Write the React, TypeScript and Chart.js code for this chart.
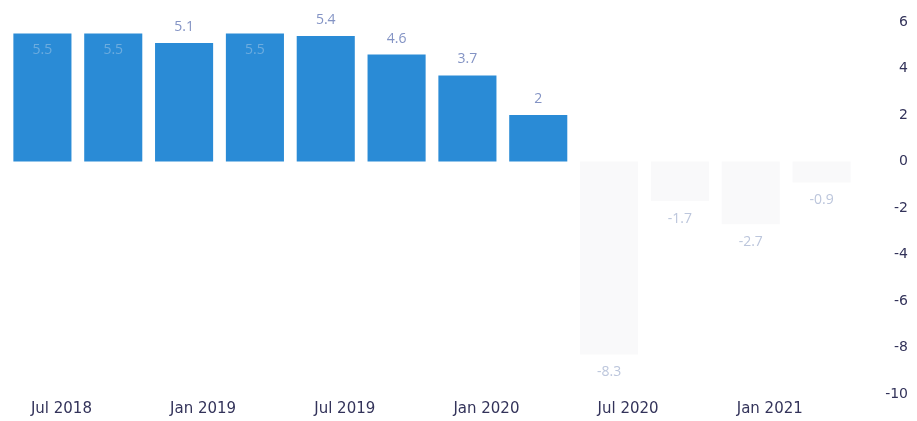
import React, { useEffect, useRef } from "react";
import { Chart, registerables } from "chart.js";

Chart.register(...registerables);

const categories = [
  "Jul 2018", "Oct 2018", "Jan 2019", "Apr 2019", "Jul 2019", "Oct 2019",
  "Jan 2020", "Apr 2020", "Jul 2020", "Oct 2020", "Jan 2021", "Apr 2021",
];
const values = [5.5, 5.5, 5.1, 5.5, 5.4, 4.6, 3.7, 2, -8.3, -1.7, -2.7, -0.9];
const yTicks = [-10, -8, -6, -4, -2, 0, 2, 4, 6];

const POS = "#2a8bd6";
const NEG = "#f9f9fa";

const labelPlugin = {
  id: "valueLabels",
  afterDatasetsDraw(chart: any) {
    const ctx = chart.ctx;
    const meta = chart.getDatasetMeta(0);
    ctx.save();
    ctx.font = "14px 'Open Sans'";
    ctx.textAlign = "center";
    ctx.textBaseline = "middle";
    meta.data.forEach((bar: any, i: number) => {
      const v = values[i];
      const txt = String(v);
      if (v >= 5.5) {
        ctx.fillStyle = "#6cacdf";
        ctx.fillText(txt, bar.x, bar.y + 16);
      } else if (v >= 0) {
        ctx.fillStyle = "#8393c4";
        ctx.fillText(txt, bar.x, bar.y - 16);
      } else {
        ctx.fillStyle = "#bcc6dc";
        ctx.fillText(txt, bar.x, bar.y + 18);
      }
    });
    ctx.restore();
  },
};

export default function App() {
  const ref = useRef<HTMLCanvasElement>(null);
  useEffect(() => {
    if (!ref.current) return;
    const chart = new Chart(ref.current, {
      type: "bar",
      data: {
        labels: categories,
        datasets: [
          {
            data: values,
            backgroundColor: values.map((v) => (v >= 0 ? POS : NEG)),
            categoryPercentage: 0.82,
            barPercentage: 1,
          },
        ],
      },
      options: {
        animation: false,
        responsive: false,
        maintainAspectRatio: false,
        layout: { padding: { left: 7, right: 9, top: 15, bottom: 0 } },
        plugins: { legend: { display: false }, tooltip: { enabled: false } },
        scales: {
          x: {
            grid: { display: false, drawTicks: false },
            border: { display: false },
            afterFit: (axis: any) => {
              axis.height = 27;
            },
            ticks: {
              autoSkip: false,
              maxRotation: 0,
              padding: 6,
              labelOffset: 19,
              color: "#33335a",
              font: { family: "'DejaVu Sans'", size: 15 },
              callback: (_v: any, i: number) => (i % 2 === 0 ? categories[i] : ""),
            },
          },
          y: {
            position: "right",
            min: -10,
            max: 6.3,
            grid: { display: false, drawTicks: false },
            border: { display: false },
            afterFit: (axis: any) => {
              axis.width = 51;
            },
            afterBuildTicks: (axis: any) => {
              axis.ticks = yTicks.map((v) => ({ value: v }));
            },
            ticks: {
              padding: 0,
              crossAlign: "far",
              color: "#33335a",
              font: { family: "'DejaVu Sans'", size: 14 },
              callback: (v: any) => String(v),
            },
          },
        },
      },
      plugins: [labelPlugin],
    });
    return () => chart.destroy();
  }, []);
  return (
    <div style={{ position: "fixed", left: 0, top: 0, width: 917, height: 421, background: "#fff" }}>
      <canvas ref={ref} width={917} height={421} />
    </div>
  );
}
